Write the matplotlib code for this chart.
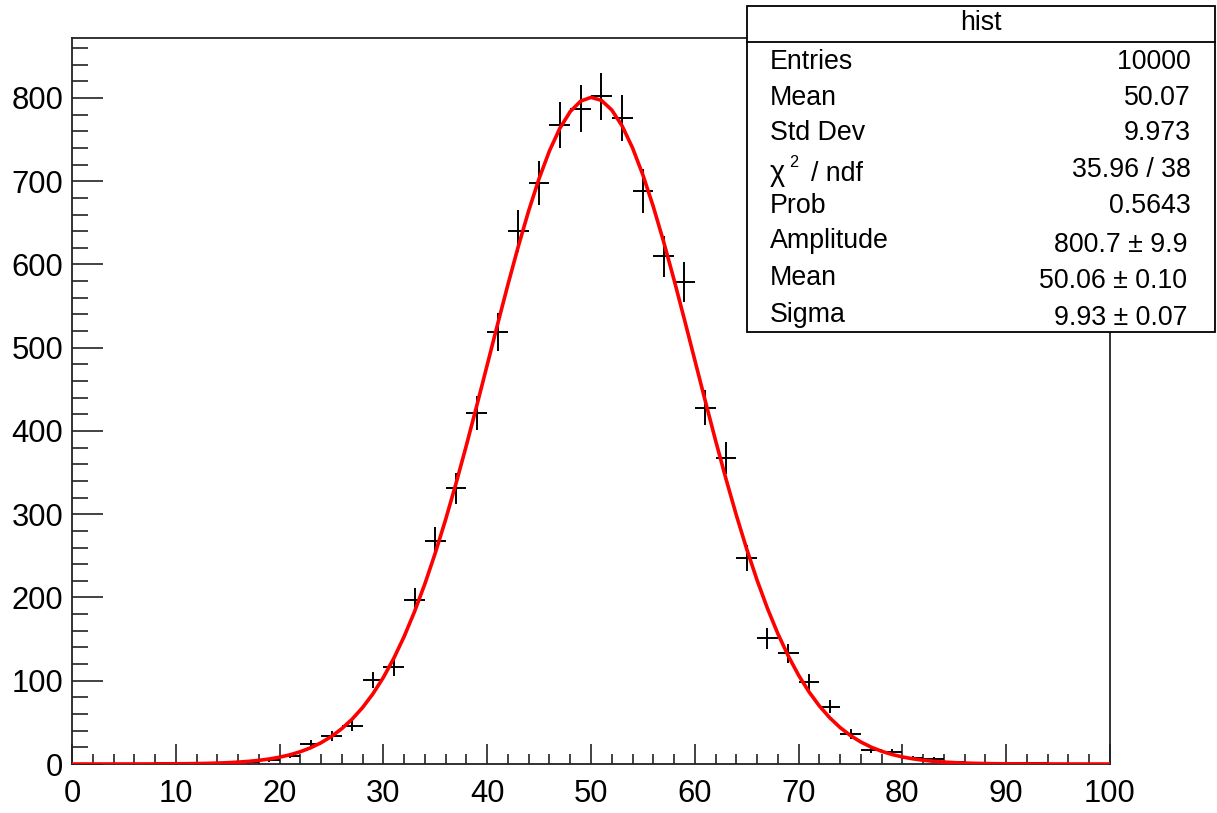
import numpy as np
import matplotlib
matplotlib.use("Agg")
import matplotlib.pyplot as plt
from matplotlib.patches import Rectangle
from matplotlib.ticker import MultipleLocator

plt.rcParams['font.family'] = ['Liberation Sans', 'DejaVu Sans']

# ---- data ----
bin_centers = list(range(1, 100, 2))
counts = [0, 0, 0, 0, 1, 0, 1, 1, 2, 5,
          10, 24, 34, 46, 101, 117, 197, 268, 331, 422,
          519, 640, 698, 768, 787, 802, 776, 688, 610, 579,
          428, 368, 247, 151, 133, 98, 69, 36, 17, 14,
          7, 6, 2, 1, 0, 1, 1, 0, 0, 0]
bin_half_width = 1.0

fit_amplitude = 800.7
fit_mean = 50.06
fit_sigma = 9.93

stat_labels = ["Entries", "Mean", "Std Dev"]
stat_values = ["10000", "50.07", "9.973"]
chi2_value = "35.96 / 38"
prob_value = "0.5643"
par_labels = ["Amplitude", "Mean", "Sigma"]
par_values = ["800.7 \u00b1 9.9", "50.06 \u00b1 0.10", "9.93 \u00b1 0.07"]
box_title = "hist"

W, H = 1217, 813
fig = plt.figure(figsize=(W / 100, H / 100), dpi=100)

def fx(px):
    return px / W

def fy(py):
    return 1 - py / H

ax = fig.add_axes([fx(72), fy(764), fx(1110) - fx(72), fy(38) - fy(764)])

x = np.array(bin_centers, dtype=float)
y = np.array(counts, dtype=float)
m = y > 0
ax.errorbar(x[m], y[m], xerr=bin_half_width, yerr=np.sqrt(y[m]), fmt='none',
            ecolor='black', elinewidth=1.4, capsize=0, zorder=2)

xf = np.linspace(0, 100, 101)
yf = fit_amplitude * np.exp(-0.5 * ((xf - fit_mean) / fit_sigma) ** 2)
ax.plot(xf, yf, color='#ff0000', lw=2.6, zorder=3, solid_joinstyle='round')

ax.set_xlim(0, 100)
ax.set_ylim(0, 872)

frame_c = '#222222'
for s in ['left', 'bottom', 'right', 'top']:
    ax.spines[s].set_color(frame_c)
    ax.spines[s].set_linewidth(1.3)

ax.xaxis.set_major_locator(MultipleLocator(10))
ax.xaxis.set_minor_locator(MultipleLocator(2))
ax.yaxis.set_major_locator(MultipleLocator(100))
ax.yaxis.set_minor_locator(MultipleLocator(20))

tick_fs = 22.3
ax.tick_params(axis='x', which='major', direction='in', length=14.4, width=1.2,
               color=frame_c, labelsize=tick_fs, pad=11, top=False)
ax.tick_params(axis='x', which='minor', direction='in', length=7.2, width=1.2,
               color=frame_c, top=False)
ax.tick_params(axis='y', which='major', direction='in', length=22.3, width=1.2,
               color=frame_c, labelsize=tick_fs, pad=6.3, right=False)
ax.tick_params(axis='y', which='minor', direction='in', length=11.5, width=1.2,
               color=frame_c, right=False)

# ---- stat box ----
bx0, by0, bx1, by1 = 747, 6, 1215, 332
rect = Rectangle((fx(bx0), fy(by1)), fx(bx1) - fx(bx0), fy(by0) - fy(by1),
                 transform=fig.transFigure, facecolor='white', edgecolor='black',
                 linewidth=1.3, zorder=5)
fig.patches.append(rect)
fig.add_artist(plt.Line2D([fx(bx0), fx(bx1)], [fy(41.7), fy(41.7)],
                          transform=fig.transFigure, color='black', lw=1.3, zorder=6))

fs = 19.3
fig.text(fx(981), fy(23), box_title, ha='center', va='center', fontsize=fs, zorder=7)

left_x = fx(770)
right_x = fx(1191)
right_x2 = fx(1187)
baselines = [69, 105, 140]
for lab, val, b in zip(stat_labels, stat_values, baselines):
    fig.text(left_x, fy(b), lab, ha='left', va='baseline', fontsize=fs, zorder=7)
    fig.text(right_x, fy(b), val, ha='right', va='baseline', fontsize=fs, zorder=7)

# chi2 / ndf row
fig.text(left_x, fy(181), "\u03c7", ha='left', va='baseline', fontsize=fs + 1.5, zorder=7)
fig.text(fx(789), fy(167), "2", ha='left', va='baseline', fontsize=11.7, zorder=7)
fig.text(fx(811), fy(181), "/ ndf", ha='left', va='baseline', fontsize=fs, zorder=7)
fig.text(right_x, fy(177), chi2_value, ha='right', va='baseline', fontsize=fs, zorder=7)

fig.text(left_x, fy(213), "Prob", ha='left', va='baseline', fontsize=fs, zorder=7)
fig.text(right_x, fy(213), prob_value, ha='right', va='baseline', fontsize=fs, zorder=7)

lab_base = [248, 285, 322]
val_base = [252, 288, 325]
for lab, val, bl, bv in zip(par_labels, par_values, lab_base, val_base):
    fig.text(left_x, fy(bl), lab, ha='left', va='baseline', fontsize=fs, zorder=7)
    fig.text(right_x2, fy(bv), val, ha='right', va='baseline', fontsize=fs, zorder=7)

fig.savefig("out.png", dpi=100, facecolor='white')
